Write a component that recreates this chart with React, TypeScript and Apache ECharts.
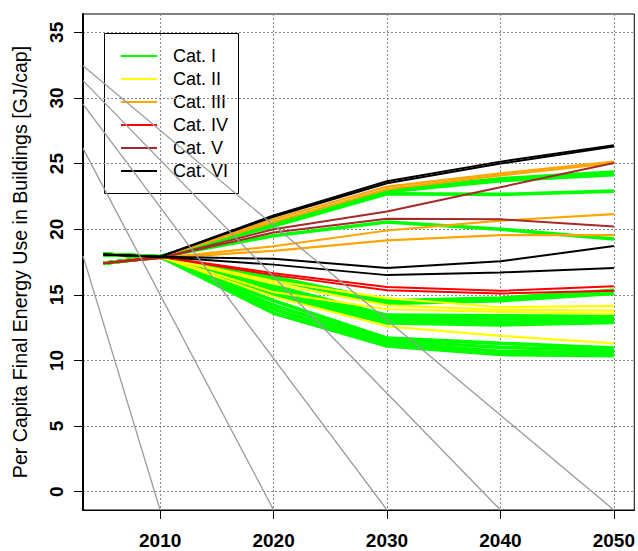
import React, { useEffect, useRef } from "react";
import * as echarts from "echarts";

const years = [2005, 2010, 2020, 2030, 2040, 2050];
const xTicks = [2010, 2020, 2030, 2040, 2050];
const yTicks = [0, 5, 10, 15, 20, 25, 30, 35];
const categories = ["Cat. I", "Cat. II", "Cat. III", "Cat. IV", "Cat. V", "Cat. VI"];
const catColors = ["#00ff00", "#ffff00", "#ffa500", "#ff0000", "#a52a2a", "#000000"];

// values at 2005, 2010, 2020, 2030, 2040, 2050
const catI = [
  [17.41, 17.9, 20.45, 22.95, 23.85, 24.35],
  [17.41, 17.9, 20.35, 22.85, 23.7, 24.15],
  [17.41, 17.9, 20.25, 22.7, 22.65, 22.9],
  [17.41, 17.9, 19.5, 20.55, 20.0, 19.25],
  [17.41, 17.9, 16.35, 14.55, 14.75, 15.35],
  [17.41, 17.9, 16.15, 14.35, 14.55, 15.1],
  [18.08, 17.9, 15.7, 13.45, 13.4, 13.35],
  [18.08, 17.9, 15.45, 13.25, 13.15, 13.2],
  [18.08, 17.9, 15.2, 13.05, 12.9, 13.05],
  [18.08, 17.9, 15.0, 12.85, 12.7, 12.9],
  [18.08, 17.9, 14.55, 11.7, 11.3, 10.95],
  [18.08, 17.9, 14.2, 11.5, 11.0, 10.75],
  [18.08, 17.9, 13.9, 11.3, 10.7, 10.55],
  [18.08, 17.9, 13.6, 11.1, 10.45, 10.35],
];
const catII = [
  [17.41, 17.9, 16.05, 14.75, 14.05, 14.15],
  [17.41, 17.9, 15.85, 14.2, 13.85, 13.8],
  [18.08, 17.9, 15.2, 13.9, 13.7, 13.55],
  [18.08, 17.9, 14.85, 12.6, 11.87, 11.3],
];
const catIII = [
  [17.41, 17.9, 20.75, 23.25, 24.25, 25.15],
  [17.41, 17.9, 20.55, 23.05, 24.1, 25.05],
  [17.41, 17.8, 18.7, 19.9, 20.65, 21.15],
  [17.41, 17.8, 18.35, 19.15, 19.55, 19.55],
];
const catIV = [
  [17.41, 17.9, 16.65, 15.6, 15.3, 15.65],
  [17.41, 17.9, 16.5, 15.35, 15.1, 15.3],
];
const catV = [
  [17.41, 17.8, 20.0, 21.35, 23.2, 25.05],
  [17.41, 17.8, 19.75, 20.8, 20.75, 20.2],
];
const catVI = [
  [18.08, 17.9, 21.05, 23.65, 25.15, 26.4],
  [18.08, 17.9, 20.95, 23.5, 25.0, 26.3],
  [18.08, 17.9, 17.75, 17.05, 17.55, 18.72],
  [18.08, 17.9, 17.3, 16.5, 16.7, 17.05],
];
const catLines = [catI, catII, catIII, catIV, catV, catVI];
const catWidths = [3.6, 2.2, 2.2, 2, 2, 2];

const xMin = 2003.2;
const xMax = 2051.8;
const yMin = -1.4;
const yMax = 36.4;
const refStartValues = [17.97, 26.16, 29.54, 31.32, 32.46];
const refEndYears = [2010, 2020, 2030, 2040, 2050];

const FONT = "'Liberation Sans', Arial, Helvetica, sans-serif";

export default function App() {
  const ref = useRef<HTMLDivElement>(null);
  useEffect(() => {
    if (!ref.current) return;
    const chart = echarts.init(ref.current, null, { renderer: "svg" });
    const series: any[] = [];
    catLines.forEach((lines, ci) => {
      lines.forEach((vals) => {
        series.push({
          type: "line",
          name: categories[ci],
          data: years.map((y, i) => [y, vals[i]]),
          showSymbol: false,
          symbol: "none",
          silent: true,
          z: 2,
          lineStyle: { color: catColors[ci], width: catWidths[ci] },
          emphasis: { disabled: true },
        });
      });
    });
    refStartValues.forEach((v, i) => {
      series.push({
        type: "line",
        data: [
          [xMin, v],
          [refEndYears[i], yMin],
        ],
        showSymbol: false,
        symbol: "none",
        silent: true,
        z: 3,
        lineStyle: { color: "#9a9a9a", width: 1.3 },
        emphasis: { disabled: true },
      });
    });

    const legendChildren: any[] = [
      {
        type: "rect",
        shape: { x: 104.5, y: 33.5, width: 134, height: 160 },
        style: { fill: "#ffffff", stroke: "#000000", lineWidth: 1 },
      },
    ];
    categories.forEach((c, i) => {
      const y = 56 + i * 23;
      legendChildren.push({
        type: "line",
        shape: { x1: 121, y1: y, x2: 157, y2: y },
        style: { stroke: catColors[i], lineWidth: 2 },
      });
      legendChildren.push({
        type: "text",
        x: 173,
        y: y,
        style: {
          text: c,
          font: `18px ${FONT}`,
          fill: "#000000",
          textAlign: "left",
          textVerticalAlign: "middle",
        },
      });
    });

    const dotted = { show: true, lineStyle: { color: "#888888", width: 1, type: [2, 2] } };

    chart.setOption({
      animation: false,
      backgroundColor: "#ffffff",
      grid: {
        left: 83,
        top: 14,
        width: 553,
        height: 496,
        show: true,
        borderColor: "#000000",
        borderWidth: 1,
      },
      xAxis: {
        type: "value",
        min: xMin,
        max: xMax,
        splitLine: dotted,
        axisLine: { show: true, onZero: false, lineStyle: { color: "#000", width: 1 } },
        axisTick: { show: true, customValues: xTicks, length: 9, lineStyle: { color: "#000", width: 1 } },
        axisLabel: {
          customValues: xTicks,
          formatter: (v: number) => String(Math.round(v)),
          fontWeight: "bold",
          fontSize: 19,
          fontFamily: FONT,
          color: "#000",
          margin: 21,
        },
      },
      yAxis: {
        type: "value",
        min: yMin,
        max: yMax,
        splitLine: dotted,
        axisLine: { show: true, onZero: false, lineStyle: { color: "#000", width: 2 } },
        axisTick: { show: true, customValues: yTicks, length: 9, lineStyle: { color: "#000", width: 1 } },
        axisLabel: {
          customValues: yTicks,
          formatter: (v: number) => String(Math.round(v)),
          rotate: 90,
          fontWeight: "bold",
          fontSize: 19,
          fontFamily: FONT,
          color: "#000",
          margin: 17,
        },
      },
      graphic: [
        {
          type: "text",
          x: 19.5,
          y: 262,
          rotation: Math.PI / 2,
          z: 100,
          style: {
            text: "Per Capita Final Energy Use in Buildings [GJ/cap]",
            font: `19.6px ${FONT}`,
            fill: "#000",
            textAlign: "center",
            textVerticalAlign: "middle",
          },
        },
        { type: "group", z: 100, children: legendChildren },
      ],
      series,
    });
    return () => chart.dispose();
  }, []);
  return (
    <div
      ref={ref}
      style={{ position: "fixed", left: 0, top: 0, width: 638, height: 551, background: "#fff" }}
    />
  );
}
